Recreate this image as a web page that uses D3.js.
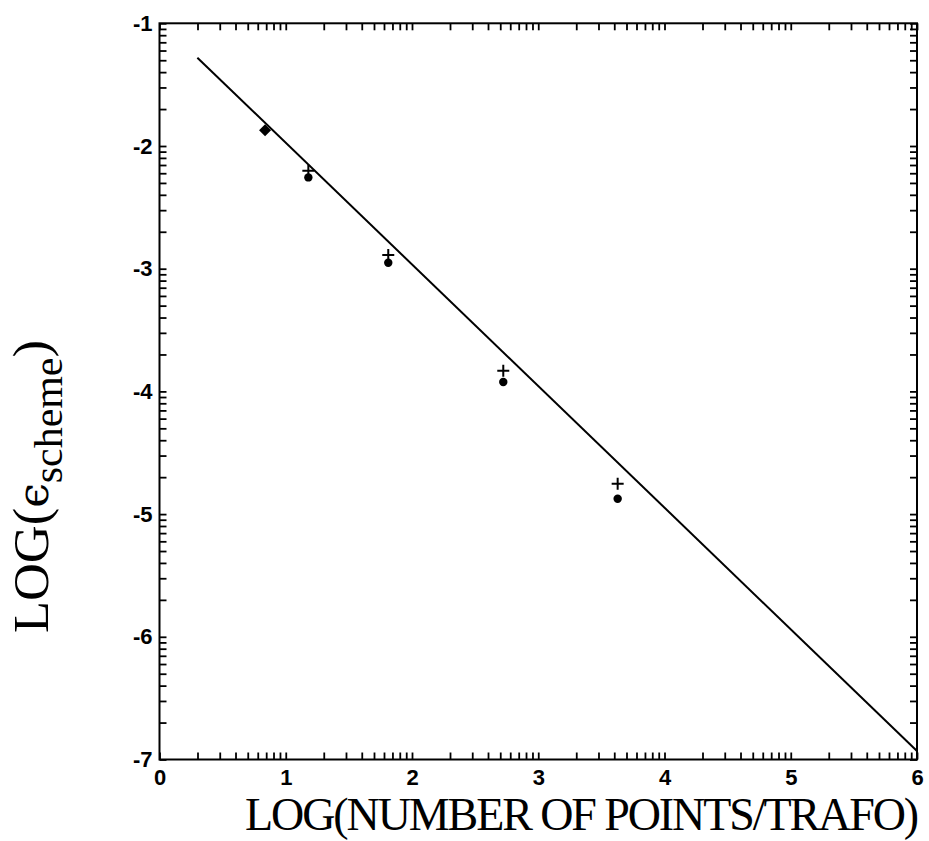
<!DOCTYPE html>
<html>
<head>
<meta charset="utf-8">
<script src="https://cdn.jsdelivr.net/npm/d3@7"></script>
<style>
  html, body { margin: 0; padding: 0; background: #fff; }
  svg { display: block; }
</style>
</head>
<body>
<svg id="chart" width="929" height="841"></svg>
<script>
// ---- data ----
const xMajor = [0, 1, 2, 3, 4, 5, 6];
const yMajor = [-7, -6, -5, -4, -3, -2, -1];
const diamondX = [0.836];
const diamondY = [-1.871];
const pointX = [1.179, 1.812, 2.723, 3.629];
const plusY = [-2.202, -2.889, -3.831, -4.753];
const dotY = [-2.256, -2.951, -3.923, -4.875];
const fitX = [0.3, 6.0];
const fitY = [-1.28, -6.93];
const xTitle = "LOG(NUMBER OF POINTS/TRAFO)";

// ---- layout ----
const L = 159.5, R = 917, T = 23.3, B = 759.5;
const svg = d3.select("#chart");
const x = d3.scaleLinear().domain([0, 6]).range([L, R]);
const y = d3.scaleLinear().domain([-7, -1]).range([B, T]);

function logMinor(majors) {
  const out = [];
  for (let i = 0; i < majors.length - 1; i++) {
    out.push(majors[i]);
    for (let k = 2; k <= 9; k++) out.push(majors[i] + Math.log10(k));
  }
  out.push(majors[majors.length - 1]);
  return out;
}
const xTicks = logMinor(xMajor);
const yTicks = logMinor(yMajor);
const isInt = d => Math.abs(d - Math.round(d)) < 1e-9;

function styleAxis(g, showLabels) {
  g.select(".domain").remove();
  g.selectAll(".tick line").attr("stroke", "#000").attr("stroke-width", 1.8);
  g.selectAll(".tick text")
    .attr("fill", "#000")
    .style("font-family", "'Liberation Sans', Arial, sans-serif")
    .style("font-size", "22px")
    .style("font-weight", "bold");
  g.selectAll(".tick text").filter(function () { return !showLabels || this.textContent === ""; }).remove();
}

// bottom
svg.append("g").attr("transform", `translate(0,${B})`)
  .call(d3.axisBottom(x).tickValues(xTicks).tickSize(-7).tickPadding(10)
    .tickFormat(d => isInt(d) ? String(Math.round(d)) : ""))
  .call(g => styleAxis(g, true));
// top
svg.append("g").attr("transform", `translate(0,${T})`)
  .call(d3.axisTop(x).tickValues(xTicks).tickSize(-7).tickFormat(""))
  .call(g => styleAxis(g, false));
// left
svg.append("g").attr("transform", `translate(${L},0)`)
  .call(d3.axisLeft(y).tickValues(yTicks).tickSize(-7).tickPadding(7)
    .tickFormat(d => isInt(d) ? "-" + String(Math.abs(Math.round(d))) : ""))
  .call(g => styleAxis(g, true));
// right
svg.append("g").attr("transform", `translate(${R},0)`)
  .call(d3.axisRight(y).tickValues(yTicks).tickSize(-7).tickFormat(""))
  .call(g => styleAxis(g, false));

// frame
svg.append("rect")
  .attr("x", L).attr("y", T).attr("width", R - L).attr("height", B - T)
  .attr("fill", "none").attr("stroke", "#000").attr("stroke-width", 2);

// fit line
svg.append("path")
  .datum(fitX.map((d, i) => [d, fitY[i]]))
  .attr("d", d3.line().x(d => x(d[0])).y(d => y(d[1])))
  .attr("fill", "none").attr("stroke", "#000").attr("stroke-width", 2);

// diamond
svg.selectAll(".diamond").data(diamondX).join("path")
  .attr("class", "diamond")
  .attr("d", d3.symbol().type(d3.symbolSquare).size(72))
  .attr("transform", (d, i) => `translate(${x(d)},${y(diamondY[i])}) rotate(45)`)
  .attr("fill", "#000");

// plus markers
svg.selectAll(".plus").data(pointX).join("path")
  .attr("class", "plus")
  .attr("d", (d, i) => {
    const cx = x(d), cy = y(plusY[i]), h = 6;
    return `M${cx - h},${cy}H${cx + h}M${cx},${cy - h}V${cy + h}`;
  })
  .attr("stroke", "#000").attr("stroke-width", 2).attr("fill", "none");

// dots
svg.selectAll(".dot").data(pointX).join("circle")
  .attr("class", "dot")
  .attr("cx", d => x(d)).attr("cy", (d, i) => y(dotY[i])).attr("r", 4.2)
  .attr("fill", "#000");

// x title: tighten letter spacing so the natural width fits the reference span
const serif = "'Liberation Serif', 'Times New Roman', serif";
const xtt = svg.append("text")
  .attr("x", 245).attr("y", 830)
  .style("font-family", serif).style("font-size", "46px")
  .attr("fill", "#000").text(xTitle);
const natural = xtt.node().getComputedTextLength();
xtt.style("letter-spacing", `${(672 - natural) / xTitle.length}px`);

// y title
const yt = svg.append("g");
const ytText = yt.append("text")
  .attr("x", 0).attr("y", 0)
  .style("font-family", serif).style("font-size", "50px")
  .attr("fill", "#000");
ytText.append("tspan").text("LOG(");
ytText.append("tspan").style("font-family", "'DejaVu Serif', serif").style("font-size", "42px").text("\u03F5");
ytText.append("tspan").attr("dy", 14).style("font-size", "40px").text("scheme");
ytText.append("tspan").attr("dy", -14).text(")");
const yw = ytText.node().getComputedTextLength();
yt.attr("transform", `translate(48,633) rotate(-90) scale(${293 / yw},1)`);
</script>
</body>
</html>
